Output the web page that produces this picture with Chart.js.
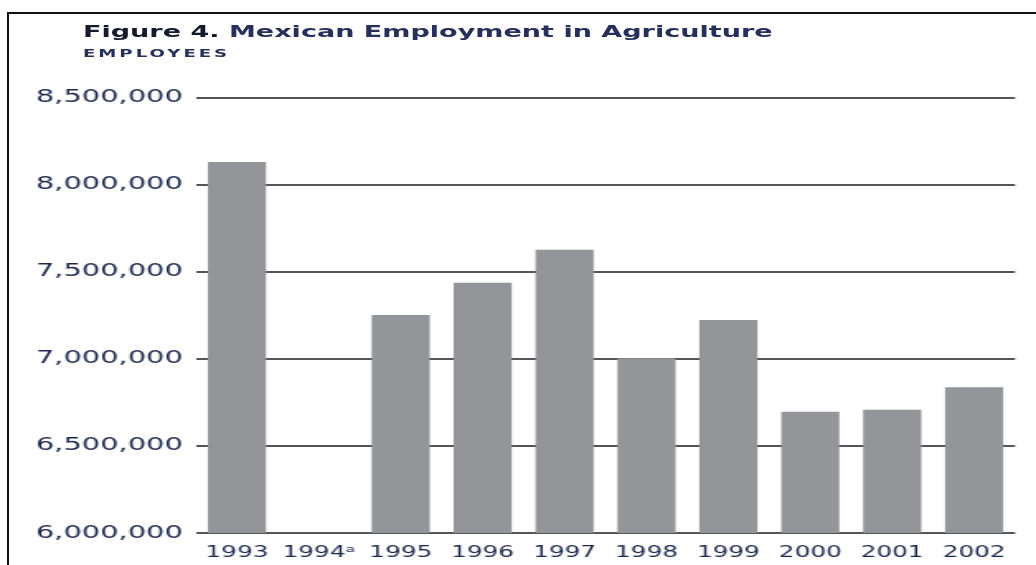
<!DOCTYPE html>
<html>
<head>
<meta charset="utf-8">
<script src="https://cdn.jsdelivr.net/npm/chart.js@4/dist/chart.umd.min.js"></script>
<style>
    body { margin: 0; background: #fff; overflow: hidden; }
    #moldura {
        position: absolute; left: 7px; top: 12px;
        width: 1200px; height: 700px;
        border-top: 2px solid #111; border-left: 2px solid #111;
    }
    /* o original parece esticado na horizontal */
    #esticado {
        position: absolute; left: 0; top: 0;
        width: 628px; height: 565px;
        transform: scaleX(1.6497); transform-origin: 0 0;
    }
    #titulo {
        position: absolute; left: 50.3px; top: 23.5px;
        font: bold 16.4px "DejaVu Sans"; line-height: 1; white-space: nowrap;
        color: #26305a;
    }
    #titulo span { color: #151a2c; }
    #subtitulo {
        position: absolute; left: 50.3px; top: 47.7px;
        font: bold 11px "DejaVu Sans"; line-height: 1; letter-spacing: 1.8px;
        color: #26305a;
    }
    canvas { position: absolute; left: 0; top: 0; }
</style>
</head>
<body>
<div id="moldura"></div>
<div id="esticado">
    <div id="titulo"><span>Figure 4.</span> Mexican Employment in Agriculture</div>
    <div id="subtitulo">EMPLOYEES</div>
    <canvas id="grafico" width="628" height="565"></canvas>
</div>
<script>
// Anos (1994 sem dado)
const anos = ["1993", "1994ᵃ", "1995", "1996", "1997", "1998", "1999", "2000", "2001", "2002"];
// Empregados na agricultura
const empregados = [8130000, null, 7251000, 7437000, 7626000, 7003000, 7223000, 6696000, 6708000, 6836000];
// Eixo Y
const yMin = 6000000;
const yMax = 8500000;
const yPasso = 500000;

const corTexto = '#1c274c';

const ctx = document.getElementById('grafico').getContext('2d');
new Chart(ctx, {
    type: 'bar',
    data: {
        labels: anos,
        datasets: [{
            data: empregados,
            backgroundColor: '#939598',
            borderWidth: 0,
            categoryPercentage: 1,
            barPercentage: 0.71
        }]
    },
    options: {
        responsive: false,
        animation: false,
        layout: { padding: { top: 97.5, right: 12.7, bottom: 0, left: 0 } },
        plugins: {
            legend: { display: false },
            tooltip: { enabled: false }
        },
        scales: {
            x: {
                grid: { display: false },
                border: { display: false },
                ticks: {
                    color: corTexto,
                    font: { family: 'DejaVu Sans', size: 15 },
                    padding: 3,
                    maxRotation: 0,
                    autoSkip: false
                },
                afterFit: (scale) => { scale.height = 32; }
            },
            y: {
                min: yMin,
                max: yMax,
                border: { display: false },
                grid: { color: '#555555', lineWidth: 2, drawTicks: false },
                ticks: {
                    stepSize: yPasso,
                    color: corTexto,
                    font: { family: 'DejaVu Sans', size: 17.5 },
                    padding: 8,
                    callback: (v) => v.toLocaleString('en-US')
                },
                afterFit: (scale) => { scale.width = 118.8; }
            }
        }
    }
});
</script>
</body>
</html>
